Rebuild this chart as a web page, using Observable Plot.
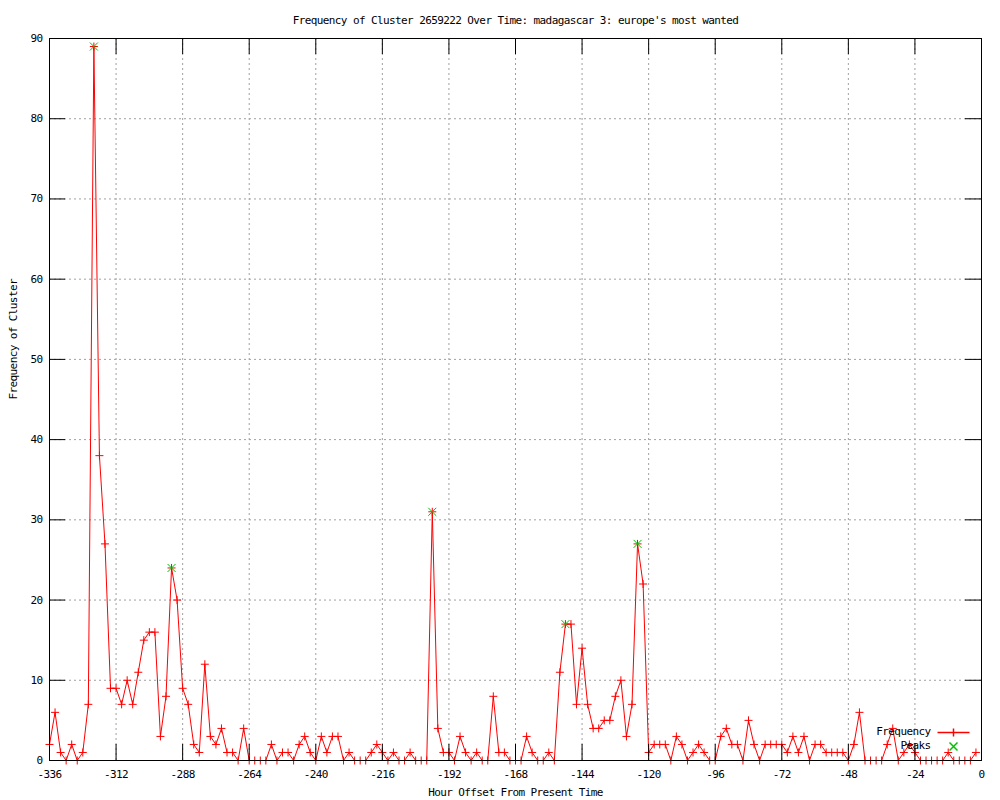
<!DOCTYPE html>
<html>
<head>
<meta charset="utf-8">
<script src="https://cdn.jsdelivr.net/npm/d3@7"></script>
<script src="https://cdn.jsdelivr.net/npm/@observablehq/plot@0.6"></script>
<style>
  body { margin: 0; background: #fff; }
</style>
</head>
<body>
<div id="chart"></div>
<script>
// ---- data ----
const hours = [
  -336,-334,-332,-330,-328,-326,-324,-322,-320,-318,-316,-314,-312,-310,-308,-306,-304,-302,-300,-298,
  -296,-294,-292,-290,-288,-286,-284,-282,-280,-278,-276,-274,-272,-270,-268,-266,-264,-262,-260,-258,
  -256,-254,-252,-250,-248,-246,-244,-242,-240,-238,-236,-234,-232,-230,-228,-226,-224,-222,-220,-218,
  -216,-214,-212,-210,-208,-206,-204,-202,-200,-198,-196,-194,-192,-190,-188,-186,-184,-182,-180,-178,
  -176,-174,-172,-170,-168,-166,-164,-162,-160,-158,-156,-154,-152,-150,-148,-146,-144,-142,-140,-138,
  -136,-134,-132,-130,-128,-126,-124,-122,-120,-118,-116,-114,-112,-110,-108,-106,-104,-102,-100,-98,
  -96,-94,-92,-90,-88,-86,-84,-82,-80,-78,-76,-74,-72,-70,-68,-66,-64,-62,-60,-58,
  -56,-54,-52,-50,-48,-46,-44,-42,-40,-38,-36,-34,-32,-30,-28,-26,-24,-22,-20,-18,
  -16,-14,-12,-10,-8,-6,-4,-2
];
const frequency = [
  2,6,1,0,2,0,1,7,89,38,27,9,9,7,10,7,11,15,16,16,
  3,8,24,20,9,7,2,1,12,3,2,4,1,1,0,4,0,0,0,0,
  2,0,1,1,0,2,3,1,0,3,1,3,3,0,1,0,0,0,1,2,
  1,0,1,0,0,1,0,0,0,31,4,1,1,0,3,1,0,1,0,0,
  8,1,1,0,0,0,3,1,0,0,1,0,11,17,17,7,14,7,4,4,
  5,5,8,10,3,7,27,22,1,2,2,2,0,3,2,0,1,2,1,0,
  0,3,4,2,2,0,5,2,0,2,2,2,2,1,3,1,3,0,2,2,
  1,1,1,1,0,2,6,0,0,0,0,2,4,0,1,2,1,0,0,0,
  0,0,1,0,0,0,0,1
];
const peakHours = [-320, -292, -198, -150, -124];
const xTicks = [-336,-312,-288,-264,-240,-216,-192,-168,-144,-120,-96,-72,-48,-24,0];
const yTicks = [0,10,20,30,40,50,60,70,80,90];
const titleText = "Frequency of Cluster 2659222 Over Time: madagascar 3: europe's most wanted";
const xLabel = "Hour Offset From Present Time";
const yLabel = "Frequency of Cluster";
const legendLabels = ["Frequency", "Peaks"];

// ---- build tables ----
const series = hours.map((h, i) => ({hour: h, freq: frequency[i]}));
const peaks = peakHours.map(h => ({hour: h, freq: frequency[hours.indexOf(h)]}));

// ---- layout ----
const W = 1000, H = 800;
const mL = 49, mR = 19, mT = 38, mB = 40;
const xDomain = [-336, 0], yDomain = [0, 90];
const tickPx = 16;
const xTickLen = tickPx * (xDomain[1] - xDomain[0]) / (W - mL - mR);
const yTickLen = tickPx * (yDomain[1] - yDomain[0]) / (H - mT - mB);

const plusSym = {draw(c, size) { const r = Math.sqrt(size / Math.PI); c.moveTo(-r, 0); c.lineTo(r, 0); c.moveTo(0, -r); c.lineTo(0, r); }};
const crossSym = {draw(c, size) { const r = Math.sqrt(size / Math.PI); c.moveTo(-r, -r); c.lineTo(r, r); c.moveTo(-r, r); c.lineTo(r, -r); }};
const lineSampleSym = {draw(c, size) { const r = Math.sqrt(size / Math.PI); c.moveTo(-16, 0); c.lineTo(16, 0); c.moveTo(0, -r); c.lineTo(0, r); }};

const RED = "#ff0000", GREEN = "#00c000", GRID = "#a0a0a0";

const chart = Plot.plot({
  width: W, height: H,
  marginLeft: mL, marginRight: mR, marginTop: mT, marginBottom: mB,
  style: {fontFamily: "'DejaVu Sans Mono', monospace", fontSize: "11px", letterSpacing: "-0.6px", background: "#fff", color: "#000"},
  x: {domain: xDomain, label: null},
  y: {domain: yDomain, label: null},
  marks: [
    // grid
    Plot.ruleX(xTicks.slice(1, -1), {stroke: GRID, strokeDasharray: "2,3"}),
    Plot.ruleY(yTicks.slice(1, -1), {stroke: GRID, strokeDasharray: "2,3"}),
    // data
    Plot.line(series, {x: "hour", y: "freq", stroke: RED, strokeWidth: 1}),
    Plot.dot(series, {x: "hour", y: "freq", symbol: plusSym, r: 4, stroke: RED, fill: "none", strokeWidth: 1}),
    Plot.dot(peaks, {x: "hour", y: "freq", symbol: crossSym, r: 4, stroke: GREEN, fill: "none", strokeWidth: 1}),
    // border and inward ticks
    Plot.frame({stroke: "#000"}),
    Plot.ruleX(xTicks, {x: d => d, y1: yDomain[0], y2: yDomain[0] + yTickLen, stroke: "#000"}),
    Plot.ruleX(xTicks, {x: d => d, y1: yDomain[1] - yTickLen, y2: yDomain[1], stroke: "#000"}),
    Plot.ruleY(yTicks, {y: d => d, x1: xDomain[0], x2: xDomain[0] + xTickLen, stroke: "#000"}),
    Plot.ruleY(yTicks, {y: d => d, x1: xDomain[1] - xTickLen, x2: xDomain[1], stroke: "#000"}),
    // axes labels
    Plot.axisX({ticks: xTicks, tickSize: 0, tickPadding: 10, tickFormat: d => `${d}`, label: null}),
    Plot.axisY({ticks: yTicks, tickSize: 0, tickPadding: 7, tickFormat: d => `${d}`, label: null}),
    // titles
    Plot.text([titleText], {frameAnchor: "top", dy: -22, fill: "#000"}),
    Plot.text([xLabel], {frameAnchor: "bottom", dy: 35, fill: "#000"}),
    Plot.text([yLabel], {frameAnchor: "left", dx: -36, rotate: -90, fill: "#000"}),
    // legend
    Plot.text([legendLabels[0]], {frameAnchor: "bottom-right", dx: -51, dy: -26, textAnchor: "end", fill: "#000"}),
    Plot.text([legendLabels[1]], {frameAnchor: "bottom-right", dx: -51, dy: -12, textAnchor: "end", fill: "#000"}),
    Plot.dot([legendLabels[0]], {x: null, y: null, frameAnchor: "bottom-right", dx: -28, dy: -28, symbol: lineSampleSym, r: 4, stroke: RED, fill: "none"}),
    Plot.dot([legendLabels[1]], {x: null, y: null, frameAnchor: "bottom-right", dx: -28, dy: -14, symbol: crossSym, r: 4, stroke: GREEN, fill: "none"})
  ]
});
document.getElementById("chart").appendChild(chart);
</script>
</body>
</html>
